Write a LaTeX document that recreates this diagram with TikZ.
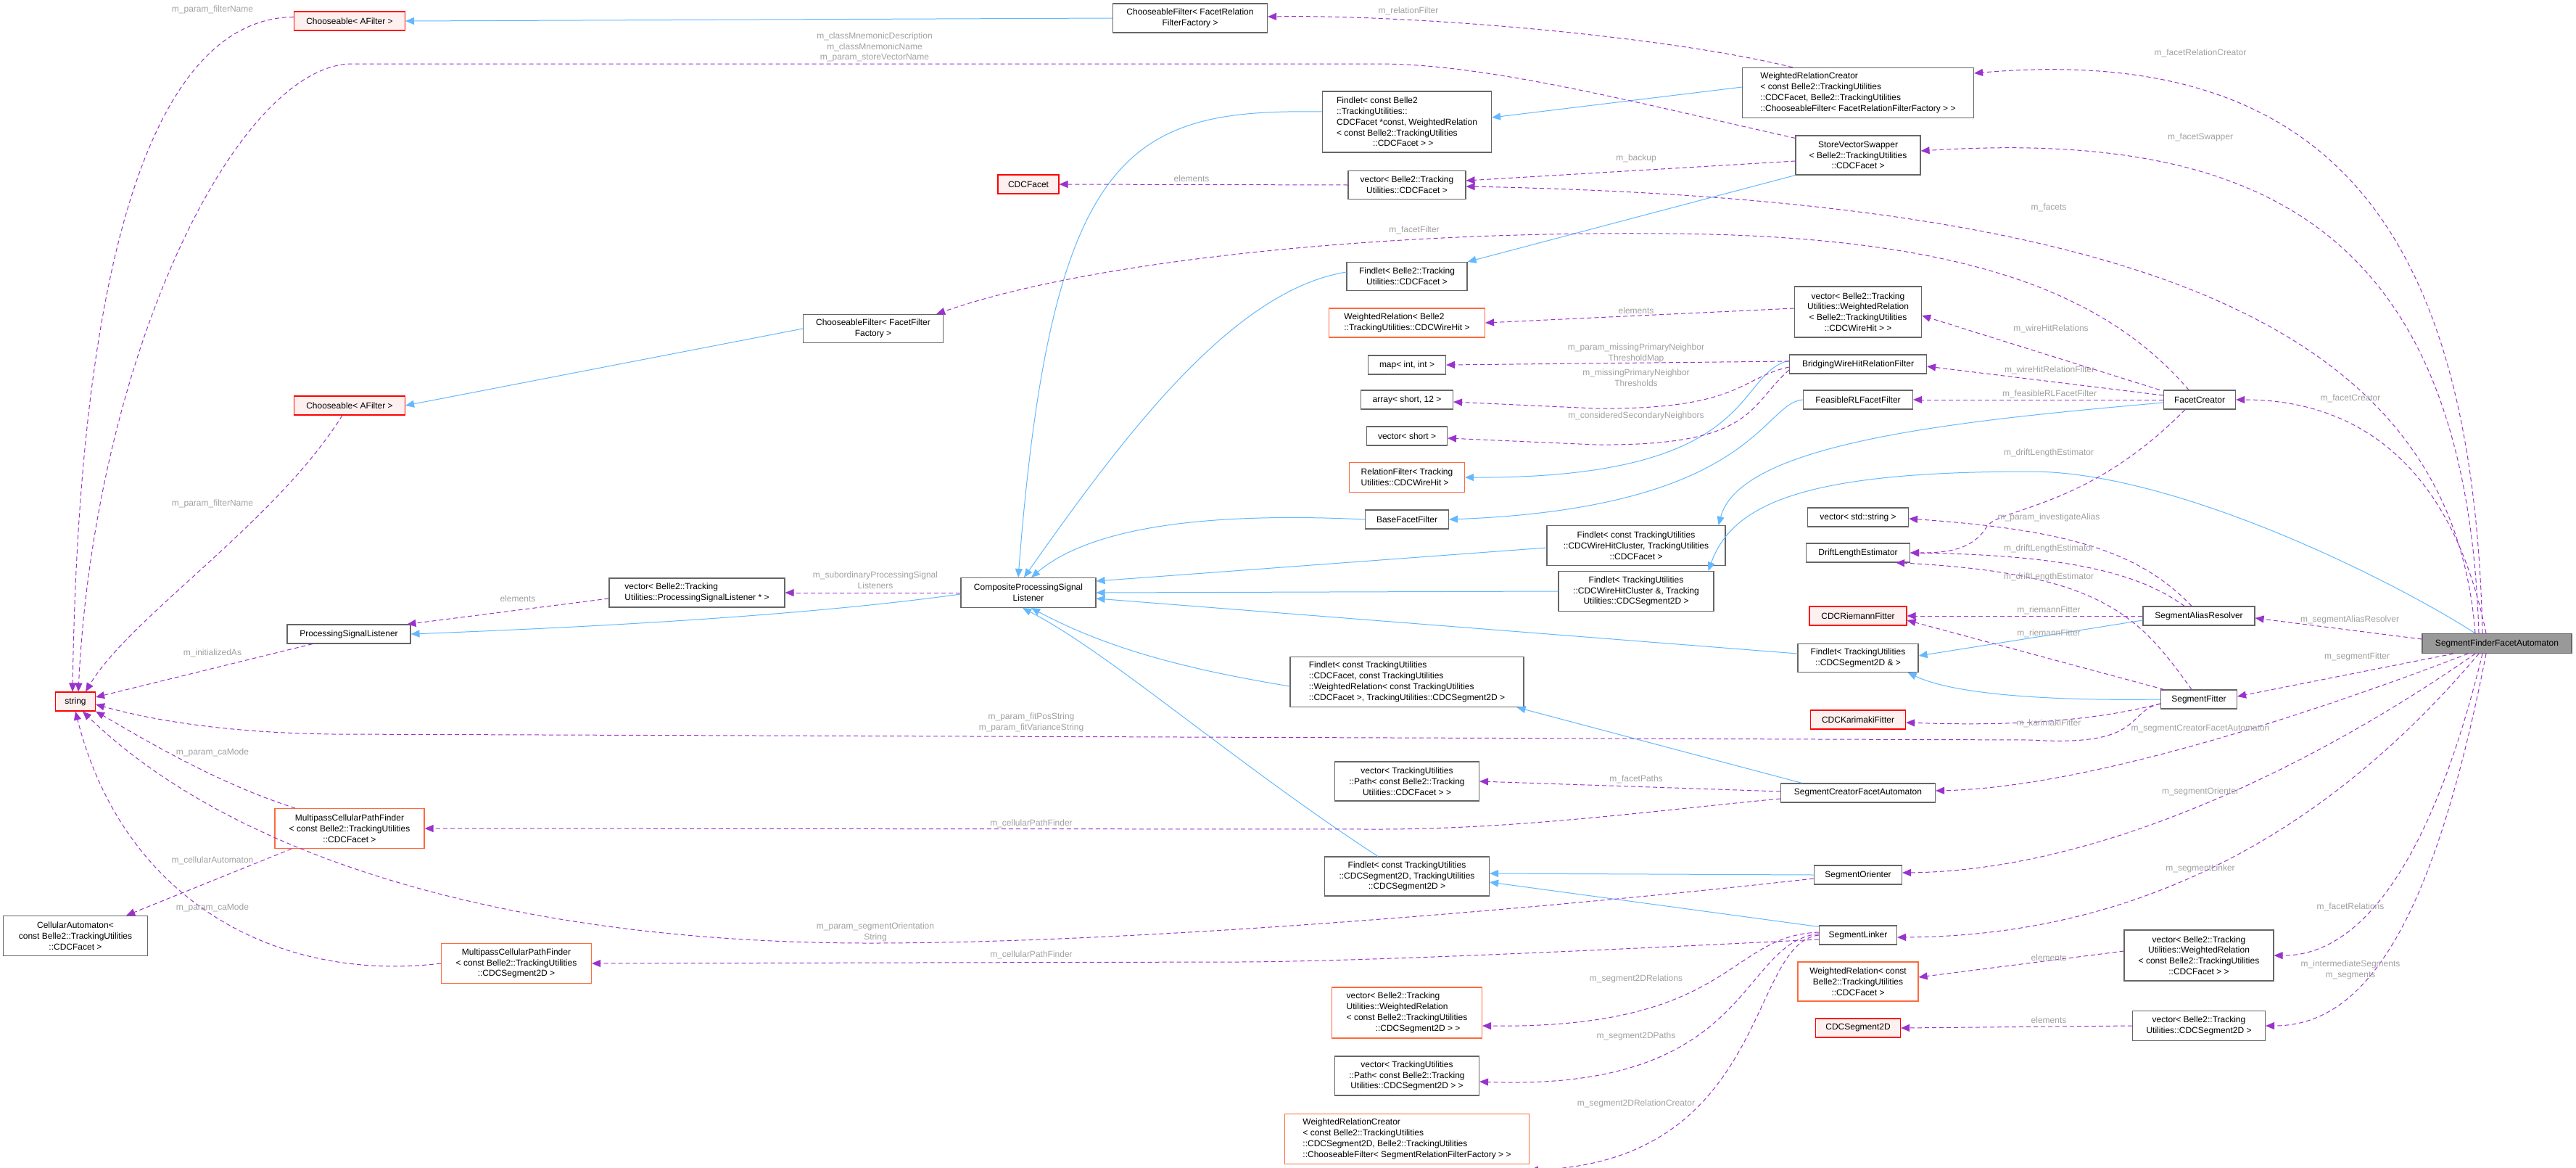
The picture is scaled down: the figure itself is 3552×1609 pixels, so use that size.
\documentclass[tikz,border=0pt]{standalone}
\usepackage{fontspec}
\setmainfont{Liberation Sans}
\usetikzlibrary{arrows.meta}
\definecolor{bgray}{HTML}{666666}
\definecolor{ired}{HTML}{FF0000}
\definecolor{ifill}{HTML}{FFF0F0}
\definecolor{iorange}{HTML}{FF6A3D}
\definecolor{inh}{HTML}{63B8FF}
\definecolor{usec}{HTML}{9A32CD}
\definecolor{lblc}{HTML}{A0A0A0}
\tikzset{
 box/.style={draw=bgray, line width=1.1pt, fill=white, inner sep=0pt, align=center, font=\fontsize{12}{14.8}\selectfont},
 rbox/.style={box, draw=ired, fill=ifill},
 obox/.style={box, draw=iorange},
 gbox/.style={box, fill=black!40},
 lft/.style={align=left},
 inhe/.style={draw=inh, line width=1pt, -{Triangle[length=12pt,width=10pt]}},
 usee/.style={draw=usec, line width=1pt, dash pattern=on 6pt off 4pt, -{Triangle[length=12pt,width=10pt]}},
 lbl/.style={text=lblc, inner sep=0pt, align=center, font=\fontsize{12}{14.8}\selectfont},
}
\newcommand{\bx}[7]{\node[#6, minimum width=#4pt, minimum height=#5pt] (#1) at (#2,#3) {#7};}
\begin{document}
\begin{tikzpicture}[x=1pt,y=-1pt]
\useasboundingbox (0,0) rectangle (3552,1609);
% nodes
\bx{chA}{482}{29}{153}{26}{rbox}{Chooseable< AFilter >}
\bx{chB}{482}{559}{153}{26}{rbox}{Chooseable< AFilter >}
\bx{cfr}{1641}{25}{213}{40}{box}{ChooseableFilter< FacetRelation\\FilterFactory >}
\bx{cff}{1204}{453}{193}{39}{box}{ChooseableFilter< FacetFilter\\Factory >}
\bx{wrc}{2562}{128}{319}{69}{box,lft}{WeightedRelationCreator\\< const Belle2::TrackingUtilities\\::CDCFacet, Belle2::TrackingUtilities\\::ChooseableFilter< FacetRelationFilterFactory > >}
\bx{fcp}{1940}{168}{233}{84}{box,lft}{Findlet< const Belle2\\::TrackingUtilities::\\CDCFacet *const, WeightedRelation\\< const Belle2::TrackingUtilities\\\hspace*{50pt}::CDCFacet > >}
\bx{svs}{2562}{214}{172}{54}{box}{StoreVectorSwapper\\< Belle2::TrackingUtilities\\::CDCFacet >}
\bx{cdcf}{1418}{254}{84}{26}{rbox}{CDCFacet}
\bx{vf}{1940}{255}{162}{39}{box}{vector< Belle2::Tracking\\Utilities::CDCFacet >}
\bx{f1}{1940}{381}{166}{39}{box}{Findlet< Belle2::Tracking\\Utilities::CDCFacet >}
\bx{wrw}{1940}{445}{215}{40}{obox,lft}{WeightedRelation< Belle2\\::TrackingUtilities::CDCWireHit >}
\bx{mp}{1940}{503}{107}{26}{box}{map< int, int >}
\bx{ar}{1940}{551}{127}{26}{box}{array< short, 12 >}
\bx{vs}{1940}{601}{111}{26}{box}{vector< short >}
\bx{rf}{1940}{658}{159}{41}{obox,lft}{RelationFilter< Tracking\\Utilities::CDCWireHit >}
\bx{bff}{1940}{716}{115}{26}{box}{BaseFacetFilter}
\bx{fwc}{2256}{752}{246}{55}{box}{Findlet< const TrackingUtilities\\::CDCWireHitCluster, TrackingUtilities\\::CDCFacet >}
\bx{fws}{2256}{815}{214}{55}{box}{Findlet< TrackingUtilities\\::CDCWireHitCluster \&, Tracking\\Utilities::CDCSegment2D >}
\bx{cpsl}{1418}{817}{186}{41}{box}{CompositeProcessingSignal\\Listener}
\bx{vwr}{2562}{430}{175}{70}{box}{vector< Belle2::Tracking\\Utilities::WeightedRelation\\< Belle2::TrackingUtilities\\::CDCWireHit > >}
\bx{bw}{2562}{502}{189}{26}{box}{BridgingWireHitRelationFilter}
\bx{frl}{2562}{551}{151}{26}{box}{FeasibleRLFacetFilter}
\bx{fc}{3033}{551}{99}{26}{box}{FacetCreator}
\bx{vstr}{2562}{713}{139}{26}{box}{vector< std::string >}
\bx{dle}{2562}{762}{143}{26}{box}{DriftLengthEstimator}
\bx{crf}{2562}{849}{134}{26}{rbox}{CDCRiemannFitter}
\bx{sar}{3032}{849}{154}{26}{box}{SegmentAliasResolver}
\bx{sffa}{3443}{887}{206}{27}{gbox}{SegmentFinderFacetAutomaton}
\bx{fsr}{2562}{907}{166}{39}{box}{Findlet< TrackingUtilities\\::CDCSegment2D \& >}
\bx{sfit}{3032}{964}{105}{26}{box}{SegmentFitter}
\bx{ckf}{2562}{992}{131}{26}{rbox}{CDCKarimakiFitter}
\bx{scfa}{2562}{1093}{213}{26}{box}{SegmentCreatorFacetAutomaton}
\bx{sor}{2562}{1206}{121}{26}{box}{SegmentOrienter}
\bx{sl}{2562}{1289}{107}{26}{box}{SegmentLinker}
\bx{vwf}{3032}{1317}{206}{70}{box}{vector< Belle2::Tracking\\Utilities::WeightedRelation\\< const Belle2::TrackingUtilities\\::CDCFacet > >}
\bx{wrf}{2562}{1353}{166}{54}{obox}{WeightedRelation< const\\Belle2::TrackingUtilities\\::CDCFacet >}
\bx{vsg}{3032}{1414}{183}{41}{box}{vector< Belle2::Tracking\\Utilities::CDCSegment2D >}
\bx{cs2}{2562}{1417}{117}{26}{rbox}{CDCSegment2D}
\bx{vpsl}{961}{817}{242}{40}{box,lft}{vector< Belle2::Tracking\\Utilities::ProcessingSignalListener * >}
\bx{psl}{481}{874}{170}{26}{box}{ProcessingSignalListener}
\bx{str}{104}{967}{55}{26}{rbox}{string}
\bx{mcpfF}{482}{1142}{206}{55}{obox}{MultipassCellularPathFinder\\< const Belle2::TrackingUtilities\\::CDCFacet >}
\bx{ca}{104}{1290}{199}{55}{box}{CellularAutomaton<\\ const Belle2::TrackingUtilities\\::CDCFacet >}
\bx{mcpfS}{712}{1328}{207}{55}{obox}{MultipassCellularPathFinder\\< const Belle2::TrackingUtilities\\::CDCSegment2D >}
\bx{ffw}{1940}{940}{322}{69}{box,lft}{Findlet< const TrackingUtilities\\::CDCFacet, const TrackingUtilities\\::WeightedRelation< const TrackingUtilities\\::CDCFacet >, TrackingUtilities::CDCSegment2D >}
\bx{vpf}{1940}{1077}{199}{54}{box}{vector< TrackingUtilities\\::Path< const Belle2::Tracking\\Utilities::CDCFacet > >}
\bx{fss}{1940}{1208}{227}{54}{box}{Findlet< const TrackingUtilities\\::CDCSegment2D, TrackingUtilities\\::CDCSegment2D >}
\bx{vws}{1940}{1396}{207}{70}{obox,lft}{vector< Belle2::Tracking\\Utilities::WeightedRelation\\< const Belle2::TrackingUtilities\\\hspace*{40pt}::CDCSegment2D > >}
\bx{vps}{1940}{1483}{199}{54}{box}{vector< TrackingUtilities\\::Path< const Belle2::Tracking\\Utilities::CDCSegment2D > >}
\bx{wrcs}{1940}{1570}{337}{69}{obox,lft}{WeightedRelationCreator\\< const Belle2::TrackingUtilities\\::CDCSegment2D, Belle2::TrackingUtilities\\::ChooseableFilter< SegmentRelationFilterFactory > >}

% inheritance
\draw[inhe] (cfr.west) -- (chA.east);
\draw[inhe] (cff.west) -- (chB.east);
\draw[inhe] ([yshift=8pt]wrc.west) -- ([yshift=6pt]fcp.east);
\draw[inhe] (svs.south west) -- (f1.north east);
\draw[inhe] ([yshift=14pt]fcp.west) .. controls (1560,150) and (1450,200) .. ([xshift=-14pt]cpsl.north);
\draw[inhe] ([yshift=6pt]f1.west) .. controls (1700,400) and (1550,600) .. ([xshift=-6pt]cpsl.north);
\draw[inhe] (bff.west) .. controls (1650,705) and (1500,730) .. ([xshift=4pt]cpsl.north);
\draw[inhe] ([yshift=-3pt]fwc.west) -- ([yshift=16pt]cpsl.east);
\draw[inhe] (fws.west) -- (cpsl.east);
\draw[inhe] ([yshift=6pt]fsr.west) -- ([yshift=-8pt]cpsl.east);
\draw[inhe] ([yshift=-6pt]ffw.west) .. controls (1620,920) and (1520,890) .. ([xshift=4pt]cpsl.south);
\draw[inhe] ([xshift=-40pt]fss.north) .. controls (1700,1050) and (1530,900) .. ([xshift=-8pt]cpsl.south);
\draw[inhe] ([yshift=-2pt]cpsl.west) .. controls (1100,850) and (800,865) .. (psl.east);
\draw[inhe] ([yshift=5pt]bw.west) .. controls (2390,515) and (2430,660) .. (rf.east);
\draw[inhe] (frl.west) .. controls (2430,555) and (2420,700) .. (bff.east);
\draw[inhe] ([yshift=-4pt]fc.west) .. controls (2700,580) and (2400,610) .. ([xshift=-10pt]fwc.north east);
\draw[inhe] ([xshift=-30pt]sffa.north) .. controls (3300,800) and (3000,650) .. (2800,650) .. controls (2500,650) and (2390,690) .. ([xshift=-8pt]fws.north east);
\draw[inhe] ([yshift=-6pt]sar.west) -- ([yshift=3pt]fsr.east);
\draw[inhe] (sfit.west) .. controls (2850,966) and (2700,960) .. ([xshift=-15pt]fsr.south east);
\draw[inhe] ([xshift=30pt]scfa.north west) -- ([xshift=-10pt]ffw.south east);
\draw[inhe] (sor.west) -- ([yshift=4pt]fss.east);
\draw[inhe] ([yshift=-2pt]sl.north west) -- ([yshift=-8pt]fss.east);

% usage
\draw[usee] ([yshift=-8pt]chA.north west) .. controls (230,25) and (110,300) .. ([xshift=-4pt]str.north);
\draw[usee] ([yshift=-4pt]svs.north west) .. controls (2250,140) and (2050,88) .. (1900,88) -- (480,88) .. controls (320,100) and (130,500) .. ([xshift=4pt]str.north);
\draw[usee] ([xshift=-10pt]chB.south) .. controls (380,720) and (180,850) .. ([xshift=14pt]str.north);
\draw[usee] ([xshift=-50pt]psl.south) -- ([yshift=6pt]str.east);
\draw[usee] ([yshift=-6pt]sfit.west) .. controls (2930,980) and (2960,1030) .. (2800,1020) -- (460,1012) .. controls (300,1010) and (200,990) .. ([yshift=-4pt]str.east);
\draw[usee] ([xshift=-75pt]mcpfF.north) .. controls (300,1080) and (200,1020) .. (str.south east);
\draw[usee] (mcpfS.west) .. controls (380,1355) and (170,1240) .. (str.south);
\draw[usee] ([yshift=-5pt]sor.west) .. controls (2200,1245) and (1600,1300) .. (1200,1300) .. controls (700,1300) and (320,1180) .. ([xshift=10pt]str.south);
\draw[usee] ([xshift=-80pt]mcpfF.south) -- ([xshift=-30pt]ca.north east);
\draw[usee] ([yshift=-8pt]vpsl.west) -- ([xshift=-5pt]psl.north east);
\draw[usee] (cpsl.west) -- (vpsl.east);
\draw[usee] ([xshift=-90pt]wrc.north) .. controls (2300,50) and (1950,20) .. ([yshift=2pt]cfr.east);
\draw[usee] (vf.west) -- (cdcf.east);
\draw[usee] ([yshift=-8pt]svs.west) -- ([yshift=6pt]vf.east);
\draw[usee] ([xshift=-30pt]sffa.north) .. controls (3380,450) and (2950,275) .. ([yshift=-2pt]vf.east);
\draw[usee] ([xshift=-15pt]fc.north) .. controls (2900,400) and (2700,325) .. (2300,322) .. controls (1900,318) and (1500,360) .. ([xshift=-10pt]cff.north east);
\draw[usee] ([yshift=5pt]vwr.west) -- (wrw.east);
\draw[usee] ([yshift=4pt]bw.west) -- (mp.east);
\draw[usee] ([yshift=-4pt]bw.west) .. controls (2400,520) and (2400,565) .. (2200,563) -- ([yshift=-3pt]ar.east);
\draw[usee] ([yshift=-8pt]bw.west) .. controls (2410,560) and (2420,615) .. (2200,613) -- ([yshift=-3pt]vs.east);
\draw[usee] ([xshift=-5pt]fc.north west) -- ([yshift=-5pt]vwr.east);
\draw[usee] ([yshift=6pt]fc.west) -- ([yshift=-3pt]bw.east);
\draw[usee] (fc.west) -- (frl.east);
\draw[usee] ([xshift=-20pt]fc.south) .. controls (2880,700) and (2760,700) .. (2740,725) .. controls (2720,760) and (2680,762) .. (dle.east);
\draw[usee] ([xshift=-20pt]sffa.north) .. controls (3410,300) and (3200,60) .. ([yshift=-8pt]wrc.north east);
\draw[usee] ([xshift=-25pt]sffa.north) .. controls (3400,300) and (3100,180) .. ([yshift=6pt]svs.east);
\draw[usee] ([xshift=-15pt]sffa.north) .. controls (3380,640) and (3250,551) .. (fc.east);
\draw[usee] ([xshift=-10pt]sar.north) .. controls (2950,760) and (2850,730) .. ([yshift=-2pt]vstr.east);
\draw[usee] ([xshift=-20pt]sar.north) .. controls (2950,790) and (2850,765) .. (dle.east);
\draw[usee] ([xshift=-10pt]sfit.north) .. controls (2950,850) and (2900,790) .. ([xshift=-20pt]dle.south east);
\draw[usee] (sar.west) -- (crf.east);
\draw[usee] ([xshift=5pt]sfit.north west) -- ([yshift=-6pt]crf.east);
\draw[usee] ([yshift=-6pt]sfit.west) .. controls (2900,990) and (2800,1002) .. ([yshift=-4pt]ckf.east);
\draw[usee] ([yshift=6pt]sffa.west) -- ([yshift=-3pt]sar.east);
\draw[usee] ([xshift=-60pt]sffa.south) -- ([yshift=4pt]sfit.east);
\draw[usee] ([xshift=-40pt]sffa.south) .. controls (3250,960) and (2900,1085) .. ([yshift=3pt]scfa.east);
\draw[usee] ([yshift=2pt]scfa.west) -- (vpf.east);
\draw[usee] ([yshift=-8pt]scfa.west) .. controls (2300,1115) and (2100,1143) .. (1900,1143) -- (mcpfF.east);
\draw[usee] ([xshift=-30pt]sffa.south) .. controls (3200,1050) and (2900,1200) .. ([yshift=3pt]sor.east);
\draw[usee] ([xshift=-25pt]sffa.south) .. controls (3250,1100) and (3000,1290) .. ([yshift=-3pt]sl.east);
\draw[usee] ([yshift=-6pt]sl.west) .. controls (2400,1300) and (1900,1326) .. (1700,1326) -- (mcpfS.east);
\draw[usee] ([yshift=4pt]sl.west) .. controls (2380,1290) and (2390,1418) .. ([yshift=-18pt]vws.east);
\draw[usee] ([yshift=2pt]sl.west) .. controls (2395,1300) and (2420,1505) .. ([yshift=-8pt]vps.east);
\draw[usee] (sl.west) .. controls (2410,1300) and (2440,1600) .. ([yshift=-8pt]wrcs.south east);
\draw[usee] ([xshift=-20pt]sffa.south) .. controls (3350,1200) and (3250,1318) .. (vwf.east);
\draw[usee] ([yshift=6pt]vwf.west) -- ([yshift=6pt]wrf.east);
\draw[usee] ([xshift=-15pt]sffa.south) .. controls (3350,1300) and (3250,1414) .. (vsg.east);
\draw[usee] (vsg.west) -- (cs2.east);

% labels
\node[lbl] (l1) at (293,13) {m\_param\_filterName};
\node[lbl] (l2) at (293,694) {m\_param\_filterName};
\node[lbl] (l3) at (1206,65) {m\_classMnemonicDescription\\m\_classMnemonicName\\m\_param\_storeVectorName};
\node[lbl] (l4) at (1942,15) {m\_relationFilter};
\node[lbl] (l5) at (1643,246) {elements};
\node[lbl] (l6) at (2256,218) {m\_backup};
\node[lbl] (l7) at (1950,317) {m\_facetFilter};
\node[lbl] (l8) at (2256,428) {elements};
\node[lbl] (l9) at (2256,487) {m\_param\_missingPrimaryNeighbor\\ThresholdMap};
\node[lbl] (l10) at (2256,521) {m\_missingPrimaryNeighbor\\Thresholds};
\node[lbl] (l11) at (2256,573) {m\_consideredSecondaryNeighbors};
\node[lbl] (l12) at (1207,800) {m\_subordinaryProcessingSignal\\Listeners};
\node[lbl] (l13) at (714,825) {elements};
\node[lbl] (l14) at (293,900) {m\_initializedAs};
\node[lbl] (l15) at (293,1037) {m\_param\_caMode};
\node[lbl] (l16) at (293,1186) {m\_cellularAutomaton};
\node[lbl] (l17) at (293,1251) {m\_param\_caMode};
\node[lbl] (l18) at (1422,996) {m\_param\_fitPosString\\m\_param\_fitVarianceString};
\node[lbl] (l19) at (1422,1135) {m\_cellularPathFinder};
\node[lbl] (l20) at (1207,1285) {m\_param\_segmentOrientation\\String};
\node[lbl] (l21) at (1422,1316) {m\_cellularPathFinder};
\node[lbl] (l22) at (2256,1074) {m\_facetPaths};
\node[lbl] (l23) at (2256,1349) {m\_segment2DRelations};
\node[lbl] (l24) at (2256,1428) {m\_segment2DPaths};
\node[lbl] (l25) at (2256,1521) {m\_segment2DRelationCreator};
\node[lbl] (l26) at (3034,73) {m\_facetRelationCreator};
\node[lbl] (l27) at (3034,189) {m\_facetSwapper};
\node[lbl] (l28) at (2825,286) {m\_facets};
\node[lbl] (l29) at (2828,453) {m\_wireHitRelations};
\node[lbl] (l30) at (2826,510) {m\_wireHitRelationFilter};
\node[lbl] (l31) at (2826,543) {m\_feasibleRLFacetFilter};
\node[lbl] (l32) at (3241,549) {m\_facetCreator};
\node[lbl] (l33) at (2825,624) {m\_driftLengthEstimator};
\node[lbl] (l34) at (2825,713) {m\_param\_investigateAlias};
\node[lbl] (l35) at (2825,756) {m\_driftLengthEstimator};
\node[lbl] (l36) at (2825,795) {m\_driftLengthEstimator};
\node[lbl] (l37) at (2825,841) {m\_riemannFitter};
\node[lbl] (l38) at (2825,873) {m\_riemannFitter};
\node[lbl] (l39) at (3240,854) {m\_segmentAliasResolver};
\node[lbl] (l40) at (3250,905) {m\_segmentFitter};
\node[lbl] (l41) at (2825,997) {m\_karimakiFitter};
\node[lbl] (l42) at (3034,1005) {m\_segmentCreatorFacetAutomaton};
\node[lbl] (l43) at (3034,1091) {m\_segmentOrienter};
\node[lbl] (l44) at (3034,1197) {m\_segmentLinker};
\node[lbl] (l45) at (3241,1250) {m\_facetRelations};
\node[lbl] (l46) at (2825,1320) {elements};
\node[lbl] (l47) at (3241,1337) {m\_intermediateSegments\\m\_segments};
\node[lbl] (l48) at (2825,1406) {elements};
\end{tikzpicture}
\end{document}
